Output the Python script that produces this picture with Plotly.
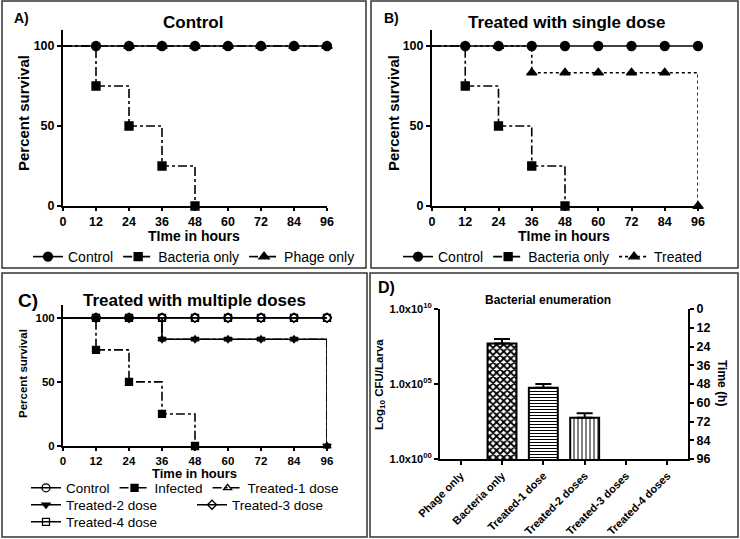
import plotly.graph_objects as go

W, H = 740, 539
def px(x): return x / W
def py(y): return 1 - y / H

FONT = "Liberation Sans, Arial, sans-serif"

# ---------------- data ----------------
hours = [0, 12, 24, 36, 48, 60, 72, 84, 96]
surv_ticks = [0, 50, 100]
start_time = 0
start_surv = 100

# Panel A (Control)
a_ctrl_t = [12, 24, 36, 48, 60, 72, 84, 96]
a_ctrl_s = [100, 100, 100, 100, 100, 100, 100, 100]
a_bact_t = [12, 24, 36, 48]
a_bact_s = [75, 50, 25, 0]
a_phage_t = [24, 36, 48, 60, 72, 84, 96]
a_phage_s = [100, 100, 100, 100, 100, 100, 100]

# Panel B (single dose)
b_ctrl_t = [12, 24, 36, 48, 60, 72, 84, 96]
b_ctrl_s = [100, 100, 100, 100, 100, 100, 100, 100]
b_bact_t = [12, 24, 36, 48]
b_bact_s = [75, 50, 25, 0]
b_treat_t = [24, 36, 48, 60, 72, 84, 96]
b_treat_s = [100, 83.3, 83.3, 83.3, 83.3, 83.3, 0]

# Panel C (multiple doses)
c_ctrl_t = [12, 24, 36, 48, 60, 72, 84, 96]
c_ctrl_s = [100, 100, 100, 100, 100, 100, 100, 100]
c_inf_t = [12, 24, 36, 48]
c_inf_s = [75, 50, 25, 0]
c_t1_t = [12, 24, 36, 48, 60, 72, 84, 96]
c_t1_s = [100, 100, 83.3, 83.3, 83.3, 83.3, 83.3, 0]
c_t2_t = [12, 24, 36, 48, 60, 72, 84, 96]
c_t2_s = [100, 100, 83.3, 83.3, 83.3, 83.3, 83.3, 0]
c_t3_t = [12, 24, 36, 48, 60, 72, 84, 96]
c_t3_s = [100, 100, 100, 100, 100, 100, 100, 100]
c_t4_t = [12, 24, 36, 48, 60, 72, 84, 96]
c_t4_s = [100, 100, 100, 100, 100, 100, 100, 100]

# Panel D (bacterial enumeration)
d_categories = ["Phage only", "Bacteria only", "Treated-1 dose",
                "Treated-2 doses", "Treated-3 doses", "Treated-4 doses"]
d_cfu = [None, 5.0e7, 5.6e4, 5.6e2, None, None]
d_cfu_err = [0, 5.0e7, 4.4e4, 5.6e2, 0, 0]
d_cfu_ticks = [1, 1e5, 1e10]
d_cfu_ticktext = ["1.0x10<sup>00</sup>", "1.0x10<sup>05</sup>", "1.0x10<sup>10</sup>"]

fig = go.Figure()

def km(name, t, s, xa, ya, dash, symbol, size, legend, mfill="black"):
    line = dict(color="black", width=1.6, dash=dash, shape="hv")
    # lead-in segment from the start of the study
    fig.add_trace(go.Scatter(x=[start_time, t[0]], y=[start_surv, s[0]],
                             mode="lines", line=line, xaxis=xa, yaxis=ya,
                             showlegend=False, hoverinfo="skip",
                             cliponaxis=False))
    fig.add_trace(go.Scatter(
        x=t, y=s, mode="lines+markers", name=name, line=line,
        marker=dict(symbol=symbol, size=size, color=mfill,
                    line=dict(color="black", width=1.3)),
        xaxis=xa, yaxis=ya, legend=legend, showlegend=True,
        cliponaxis=False))

# Panel A
km("Control", a_ctrl_t, a_ctrl_s, "x", "y", "solid", "circle", 9, "legend")
km("Bacteria only", a_bact_t, a_bact_s, "x", "y", "dashdot", "square", 8, "legend")
km("Phage only", a_phage_t, a_phage_s, "x", "y", "dashdot", "triangle-up", 9, "legend")
# Panel B
km("Control", b_ctrl_t, b_ctrl_s, "x2", "y2", "solid", "circle", 9, "legend2")
km("Bacteria only", b_bact_t, b_bact_s, "x2", "y2", "dashdot", "square", 8, "legend2")
km("Treated", b_treat_t, b_treat_s, "x2", "y2", "dot", "triangle-up", 9, "legend2")
# Panel C
km("Control", c_ctrl_t, c_ctrl_s, "x3", "y3", "solid", "circle-open", 8, "legend3")
km("Infected", c_inf_t, c_inf_s, "x3", "y3", "dashdot", "square", 7, "legend3")
km("Treated-1 dose", c_t1_t, c_t1_s, "x3", "y3", "dashdot", "triangle-up-open", 7, "legend3")
km("Treated-2 dose", c_t2_t, c_t2_s, "x3", "y3", "solid", "triangle-down", 7, "legend4")
km("Treated-3 dose", c_t3_t, c_t3_s, "x3", "y3", "solid", "diamond-open", 7, "legend4")
km("Treated-4 dose", c_t4_t, c_t4_s, "x3", "y3", "solid", "square-open", 7, "legend5")

# Panel D bars
fig.add_trace(go.Bar(
    x=d_categories, y=d_cfu, xaxis="x4", yaxis="y4", width=0.7,
    marker=dict(color="white", line=dict(color="black", width=2),
                pattern=dict(shape=["", "x", "-", "|", "", ""],
                             size=[6, 5, 3, 4, 6, 6],
                             solidity=[0.3, 0.6, 0.35, 0.25, 0.3, 0.3],
                             fgcolor="black", bgcolor="white")),
    error_y=dict(type="data", array=d_cfu_err, symmetric=False,
                 arrayminus=[0] * 6, color="black", thickness=2, width=8),
    showlegend=False))
# right-hand time axis of panel D
fig.add_trace(go.Scatter(x=[d_categories[0]], y=[hours[0]], xaxis="x4", yaxis="y5",
                         mode="markers", marker=dict(opacity=0), showlegend=False,
                         hoverinfo="skip"))

def tf(size):
    return dict(family=FONT, size=size, color="black", weight="bold")

axis_common = dict(showline=True, linecolor="black", linewidth=2, ticks="outside",
                   ticklen=4, tickwidth=2, tickcolor="black", showgrid=False,
                   zeroline=False, tickfont=tf(13), automargin=False)

def surv_axes(xd, yd, fs, tl=4):
    xa = dict(axis_common, domain=[px(xd[0]), px(xd[1])], range=[0, 96],
              tickvals=hours, tickfont=tf(fs), ticklen=tl)
    ya = dict(axis_common, domain=[py(yd[0]), py(yd[1])], range=[0, 110],
              tickvals=surv_ticks, tickfont=tf(fs))
    return xa, ya

xA, yA = surv_axes((63, 327), (206, 30), 12.5, tl=3)
xB, yB = surv_axes((432, 698), (206, 30), 12.5, tl=3)
xC, yC = surv_axes((63, 327), (446, 305), 11.5, tl=3)

fig.update_layout(
    template="none",
    width=W, height=H, margin=dict(l=0, r=0, t=0, b=0, autoexpand=False),
    paper_bgcolor="white", plot_bgcolor="rgba(0,0,0,0)",
    font=dict(family=FONT, color="black"),
    xaxis=dict(xA, anchor="y"), yaxis=dict(yA, anchor="x"),
    xaxis2=dict(xB, anchor="y2"), yaxis2=dict(yB, anchor="x2"),
    xaxis3=dict(xC, anchor="y3"), yaxis3=dict(yC, anchor="x3"),
    xaxis4=dict(axis_common, domain=[px(440), px(688)], anchor="y4",
                type="category", range=[-0.5, 5.5], tickangle=-45,
                tickfont=tf(11)),
    yaxis4=dict(axis_common, domain=[py(459), py(309)], anchor="x4", type="log",
                range=[0, 10], tickvals=d_cfu_ticks, ticktext=d_cfu_ticktext,
                tickfont=tf(11)),
    yaxis5=dict(axis_common, domain=[py(459), py(309)], anchor="x4",
                overlaying="y4", side="right", range=[96, 0], tickvals=hours,
                tickfont=tf(12.5)),
    barmode="overlay",
)

def leg(x, y, fs, ew=None):
    d = dict(orientation="h", x=px(x), y=py(y), xanchor="left", yanchor="middle",
             font=dict(family=FONT, size=fs, color="black"),
             bgcolor="rgba(0,0,0,0)", itemwidth=30, traceorder="normal",
             itemclick=False, borderwidth=0)
    if ew is not None:
        d["entrywidth"] = ew
        d["entrywidthmode"] = "pixels"
    return d

fig.update_layout(legend=leg(28, 257, 14), legend2=leg(398, 257, 14),
                  legend3=leg(26, 488, 13.5), legend4=leg(26, 505, 13.5, ew=121),
                  legend5=leg(26, 522, 13.5))

ann = []
def text(x, y, s, size, bold=True, angle=0, xanchor="center"):
    ann.append(dict(x=px(x), y=py(y), xref="paper", yref="paper", text=s,
                    showarrow=False, textangle=angle, xanchor=xanchor,
                    yanchor="middle",
                    font=dict(family=FONT, size=size, color="black",
                              weight="bold" if bold else "normal")))

text(12, 18, "A)", 14, xanchor="left")
text(193, 23, "Control", 17)
text(23, 113, "Percent survival", 15, angle=-90)
text(194, 236, "TIme in hours", 14)

text(382, 18, "B)", 14, xanchor="left")
text(566, 23, "Treated with single dose", 17)
text(393, 113, "Percent survival", 15, angle=-90)
text(564, 236, "TIme in hours", 14)

text(16, 300, "C)", 19, xanchor="left")
text(194, 300, "Treated with multiple doses", 17)
text(23, 374, "Percent survival", 11.5, angle=-90)
text(194, 473, "Time in hours", 13)

text(376, 287, "D)", 16, xanchor="left")
text(548, 300, "Bacterial enumeration", 12)
text(380, 385, "Log<sub>10</sub> CFU/Larva", 11.5, angle=-90)
text(722, 383, "Time (h)", 12, angle=90)

fig.update_layout(annotations=ann)

# panel borders
shapes = []
for (x0, y0, x1, y1) in [(2, 1, 366, 268), (371, 1, 738, 268),
                         (2, 273, 367, 537), (370, 273, 738, 537)]:
    shapes.append(dict(type="rect", xref="paper", yref="paper",
                       x0=px(x0), x1=px(x1), y0=py(y0), y1=py(y1),
                       line=dict(color="#333333", width=1.5), layer="below"))
fig.update_layout(shapes=shapes)

fig.write_html("out.html", config={"displayModeBar": False},
               post_script="document.body.style.margin='0';"
                           "document.body.style.overflow='hidden';")
